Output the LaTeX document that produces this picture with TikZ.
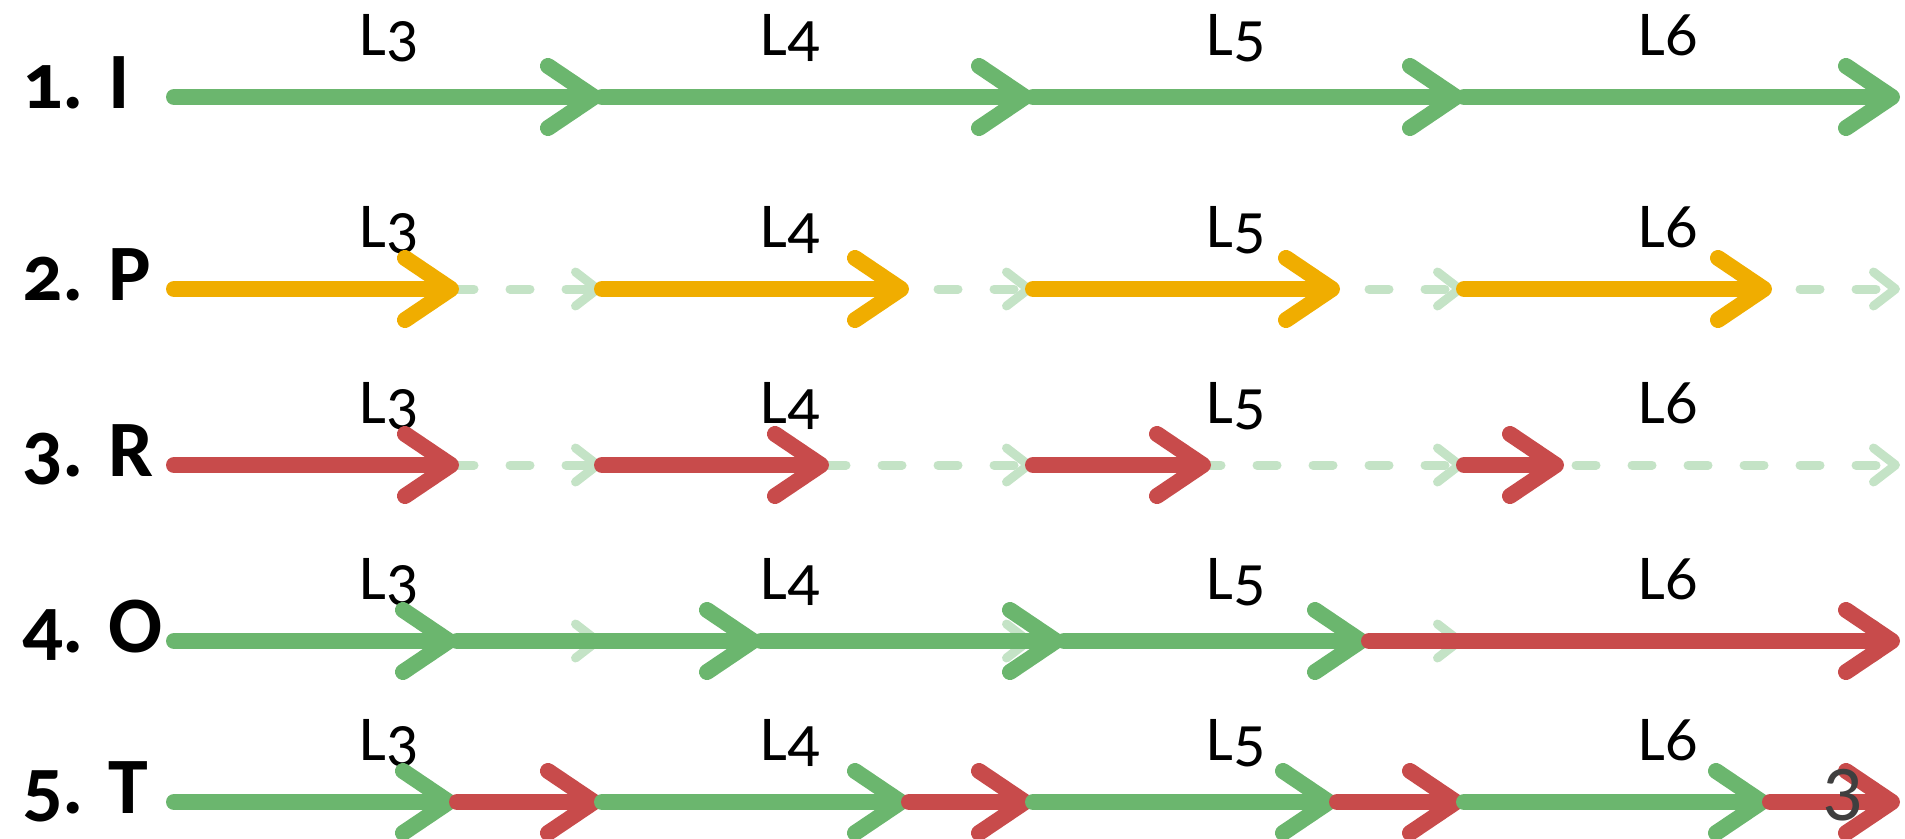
\documentclass[tikz,border=0pt]{standalone}
\usepackage{fontspec}
\setmainfont{Carlito}[Numbers=OldStyle]
\newfontfamily\liningfont{Carlito}[Numbers=Lining]
\usetikzlibrary{arrows.meta}
\definecolor{okgreen}{HTML}{6BB66E}
\definecolor{partyellow}{HTML}{F0AD00}
\definecolor{failred}{HTML}{C84B4B}
\definecolor{tracegreen}{HTML}{C4E3C6}
\definecolor{straygrey}{HTML}{3F3F3F}
\newcommand{\rowfont}{\fontsize{80}{96}\selectfont\bfseries}
\newcommand{\layerfont}{\fontsize{64}{76}\selectfont}
\tikzset{
    seg/.style={line width=16pt, line cap=round, -{Straight Barb[length=46pt,width=62pt,round]}},
    good/.style={seg, draw=okgreen},
    part/.style={seg, draw=partyellow},
    bad/.style={seg, draw=failred},
    trace/.style={line width=9pt, line cap=round, draw=tracegreen, dash pattern=on 20pt off 36pt,
        -{Straight Barb[length=22pt,width=34pt,round]}},
    layer/.style={font=\layerfont, anchor=base, inner sep=0pt},
    rowname/.style={font=\rowfont, anchor=base west, inner sep=0pt}
}

\begin{document}
\begin{tikzpicture}[x=1pt, y=-1pt]
        \useasboundingbox (0,0) rectangle (1905,838);

        % stage boundaries and layer labels of every row
        \foreach \r/\y in {1/97,2/289,3/465,4/641,5/802} {
            \foreach \i/\x in {0/174,1/602,2/1033,3/1464,4/1900}
                \coordinate (r\r b\i) at (\x,\y);
            \foreach \l/\x in {3/389,4/790,5/1236,6/1668}
                \node (r\r l\l) at (\x,\y-42) [layer] {L\l};
        }

        \node (n1) at (22,108) [rowname] {1. I};
        \node (n2) at (22,300) [rowname] {2. P};
        \node (n3) at (22,476) [rowname] {3. R};
        \node (n4) at (22,652) [rowname] {4. O};
        \node (n5) at (22,813) [rowname] {5. T};

        % faint full path under rows 2-4
        \foreach \r in {2,3,4} {
            \draw [trace] (r\r b0) -- (r\r b1);
            \draw [trace] (r\r b1) -- (r\r b2);
            \draw [trace] (r\r b2) -- (r\r b3);
            \draw [trace] (r\r b3) -- (r\r b4);
        }

        \draw [good] (r1b0) -- (r1b1);
        \draw [good] (r1b1) -- (r1b2);
        \draw [good] (r1b2) -- (r1b3);
        \draw [good] (r1b3) -- (r1b4);

        \coordinate (r2t1) at (459,289);
        \coordinate (r2t2) at (909,289);
        \coordinate (r2t3) at (1340,289);
        \coordinate (r2t4) at (1772,289);
        \draw [part] (r2b0) -- (r2t1);
        \draw [part] (r2b1) -- (r2t2);
        \draw [part] (r2b2) -- (r2t3);
        \draw [part] (r2b3) -- (r2t4);

        \coordinate (r3t1) at (459,465);
        \coordinate (r3t2) at (829,465);
        \coordinate (r3t3) at (1211,465);
        \coordinate (r3t4) at (1564,465);
        \draw [bad] (r3b0) -- (r3t1);
        \draw [bad] (r3b1) -- (r3t2);
        \draw [bad] (r3b2) -- (r3t3);
        \draw [bad] (r3b3) -- (r3t4);

        \coordinate (r4t1) at (457,641);
        \coordinate (r4t2) at (761,641);
        \coordinate (r4t3) at (1064,641);
        \coordinate (r4t4) at (1369,641);
        \draw [good] (r4b0) -- (r4t1);
        \draw [good] (r4t1) -- (r4t2);
        \draw [good] (r4t2) -- (r4t3);
        \draw [good] (r4t3) -- (r4t4);
        \draw [bad] (r4t4) -- (r4b4);

        \coordinate (r5t1) at (457,802);
        \coordinate (r5t2) at (909,802);
        \coordinate (r5t3) at (1337,802);
        \coordinate (r5t4) at (1770,802);
        \draw [good] (r5b0) -- (r5t1);
        \draw [bad] (r5t1) -- (r5b1);
        \draw [good] (r5b1) -- (r5t2);
        \draw [bad] (r5t2) -- (r5b2);
        \draw [good] (r5b2) -- (r5t3);
        \draw [bad] (r5t3) -- (r5b3);
        \draw [good] (r5b3) -- (r5t4);
        \draw [bad] (r5t4) -- (r5b4);

        \node (stray) at (1842,795) [inner sep=0pt, text=straygrey,
            font=\liningfont\fontsize{79}{94}\selectfont] {3};
    \end{tikzpicture}
\end{document}
